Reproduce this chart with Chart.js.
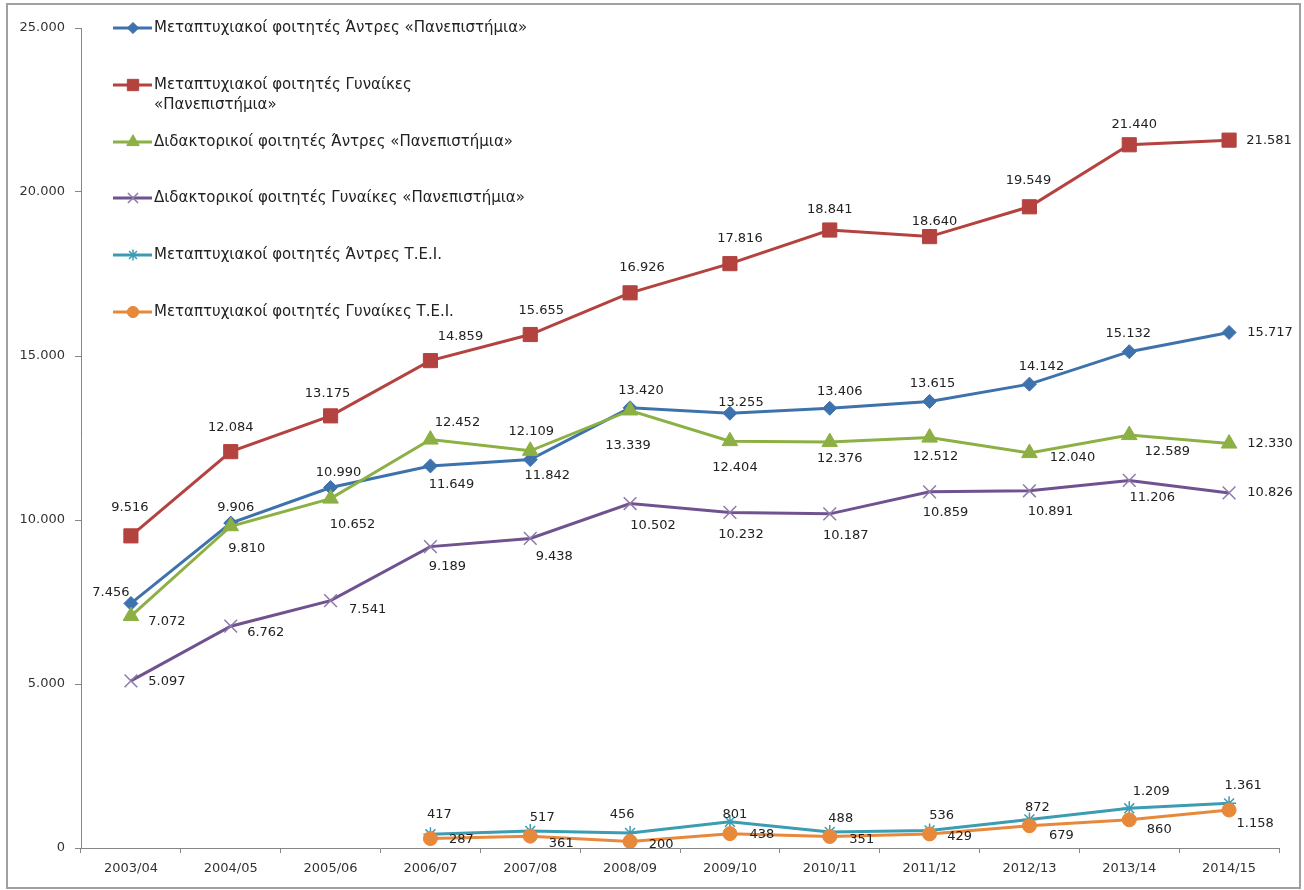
<!DOCTYPE html>
<html>
<head>
<meta charset="utf-8">
<script src="https://cdn.jsdelivr.net/npm/chart.js@4.4.0/dist/chart.umd.min.js"></script>
<style>
  html, body { margin: 0; padding: 0; background: #fff; }
</style>
</head>
<body>
<canvas id="chart" width="1304" height="890"></canvas>
<script>
const years = ['2003/04', '2004/05', '2005/06', '2006/07', '2007/08', '2008/09',
               '2009/10', '2010/11', '2011/12', '2012/13', '2013/14', '2014/15'];

const seriesNames = [
  'Μεταπτυχιακοί φοιτητές Άντρες «Πανεπιστήμια»',
  'Μεταπτυχιακοί φοιτητές Γυναίκες\n«Πανεπιστήμια»',
  'Διδακτορικοί φοιτητές Άντρες «Πανεπιστήμια»',
  'Διδακτορικοί φοιτητές Γυναίκες «Πανεπιστήμια»',
  'Μεταπτυχιακοί φοιτητές Άντρες Τ.Ε.Ι.',
  'Μεταπτυχιακοί φοιτητές Γυναίκες Τ.Ε.Ι.'
];

const mscMenUni   = [7456, 9906, 10990, 11649, 11842, 13420, 13255, 13406, 13615, 14142, 15132, 15717];
const mscWomenUni = [9516, 12084, 13175, 14859, 15655, 16926, 17816, 18841, 18640, 19549, 21440, 21581];
const phdMenUni   = [7072, 9810, 10652, 12452, 12109, 13339, 12404, 12376, 12512, 12040, 12589, 12330];
const phdWomenUni = [5097, 6762, 7541, 9189, 9438, 10502, 10232, 10187, 10859, 10891, 11206, 10826];
const mscMenTei   = [null, null, null, 417, 517, 456, 801, 488, 536, 872, 1209, 1361];
const mscWomenTei = [null, null, null, 287, 361, 200, 438, 351, 429, 679, 860, 1158];

const yTicks = [0, 5000, 10000, 15000, 20000, 25000];

// where each value label sits, relative to its point (dx, dy)
const labelOffsets = [
  [[-20,-11],[5,-15],[8,-15],[21,19],[17,16],[11,-17],[11,-11],[10,-17],[3,-18],[12,-18],[-1,-18],[41,0]],
  [[-1,-28],[0,-24],[-3,-22],[30,-24],[11,-24],[12,-25],[10,-25],[0,-20],[5,-15],[-1,-26],[5,-20],[40,0]],
  [[36,6],[16,22],[22,26],[27,-17],[1,-19],[-2,35],[5,26],[10,17],[6,19],[43,5],[38,17],[41,0]],
  [[36,1],[35,6],[37,9],[17,20],[24,18],[23,22],[11,22],[16,22],[16,21],[21,21],[23,17],[41,0]],
  [null,null,null,[9,-20],[12,-13],[-8,-18],[5,-7],[11,-13],[12,-15],[8,-12],[22,-17],[14,-18]],
  [null,null,null,[31,1],[31,7],[31,3],[32,1],[32,3],[30,3],[32,10],[30,10],[26,14]]
];

const legendRows = [28, 85, 142, 198, 255, 312];

const fmt = v => String(v).replace(/\B(?=(\d{3})+(?!\d))/g, '.');
const FONT = '"DejaVu Sans", Verdana, sans-serif';

function line(label, data, color, style, radius, extra) {
  return Object.assign({
    label: label.replace('\n', ' '),
    data: data,
    borderColor: color,
    backgroundColor: color,
    borderWidth: 3,
    pointStyle: style,
    pointRadius: radius,
    pointHoverRadius: radius,
    pointBackgroundColor: color,
    pointBorderColor: color,
    pointBorderWidth: 1,
    tension: 0
  }, extra || {});
}

const datasets = [
  line(seriesNames[0], mscMenUni, '#3e72ac', 'rectRot', 7),
  line(seriesNames[1], mscWomenUni, '#b4423f', 'rect', 10),
  line(seriesNames[2], phdMenUni, '#8cb043', 'triangle', 9),
  line(seriesNames[3], phdWomenUni, '#6f528f', 'crossRot', 9, { pointBorderColor: '#8e7aa8', pointBorderWidth: 1.5 }),
  line(seriesNames[4], mscMenTei, '#3c9cb2', 'star', 7, { pointBorderWidth: 1.5 }),
  line(seriesNames[5], mscWomenTei, '#e8883a', 'circle', 7)
];
datasets.forEach((d, i) => { d.order = datasets.length - i; });

const frame = {
  id: 'frame',
  beforeDraw(chart) {
    const ctx = chart.ctx;
    ctx.save();
    ctx.fillStyle = '#fff';
    ctx.fillRect(0, 0, chart.width, chart.height);
    ctx.strokeStyle = '#a0a0a0';
    ctx.lineWidth = 2;
    ctx.strokeRect(7, 4, 1293, 884);
    ctx.restore();
  }
};

const valueLabels = {
  id: 'valueLabels',
  afterDatasetsDraw(chart) {
    const ctx = chart.ctx;
    ctx.save();
    ctx.font = '13px ' + FONT;
    ctx.fillStyle = '#222';
    ctx.textAlign = 'center';
    ctx.textBaseline = 'middle';
    chart.data.datasets.forEach((ds, i) => {
      const meta = chart.getDatasetMeta(i);
      meta.data.forEach((pt, j) => {
        const v = ds.data[j];
        const off = labelOffsets[i][j];
        if (v == null || !off) return;
        ctx.fillText(fmt(v), pt.x + off[0], pt.y + off[1]);
      });
    });
    ctx.restore();
  }
};

const sideLegend = {
  id: 'sideLegend',
  afterDraw(chart) {
    const ctx = chart.ctx;
    ctx.save();
    chart.data.datasets.forEach((ds, i) => {
      const y = legendRows[i];
      ctx.strokeStyle = ds.borderColor;
      ctx.lineWidth = 3;
      ctx.beginPath();
      ctx.moveTo(113, y);
      ctx.lineTo(152, y);
      ctx.stroke();
      ctx.fillStyle = ds.pointBackgroundColor;
      ctx.strokeStyle = ds.pointBorderColor;
      ctx.lineWidth = ds.pointBorderWidth;
      Chart.helpers.drawPoint(ctx, {
        pointStyle: ds.pointStyle,
        radius: ds.pointRadius * 0.8,
        rotation: 0,
        borderWidth: ds.pointBorderWidth
      }, 133, y);
      ctx.font = '15px ' + FONT;
      ctx.fillStyle = '#222';
      ctx.textAlign = 'left';
      ctx.textBaseline = 'middle';
      seriesNames[i].split('\n').forEach((t, k) => {
        ctx.fillText(t, 154, y + k * 20);
      });
    });
    ctx.restore();
  }
};

new Chart(document.getElementById('chart'), {
  type: 'line',
  data: { labels: years, datasets: datasets },
  options: {
    responsive: false,
    animation: false,
    layout: { padding: { top: 28, right: 25, left: 0, bottom: 0 } },
    plugins: {
      legend: { display: false },
      tooltip: { enabled: false }
    },
    scales: {
      x: {
        offset: true,
        grid: { offset: true, drawOnChartArea: false, tickLength: 5, color: '#868686' },
        border: { color: '#868686', width: 1 },
        ticks: { font: { family: FONT, size: 13 }, color: '#333', padding: 8, maxRotation: 0, autoSkip: false },
        afterFit(scale) { scale.height = 42; }
      },
      y: {
        min: 0,
        max: 25000,
        afterBuildTicks(scale) { scale.ticks = yTicks.map(v => ({ value: v })); },
        grid: { drawOnChartArea: false, tickLength: 6, color: '#868686' },
        border: { color: '#868686', width: 1 },
        ticks: { font: { family: FONT, size: 13 }, color: '#333', padding: 10, callback: v => fmt(v) },
        afterFit(scale) { scale.width = 81; }
      }
    }
  },
  plugins: [frame, valueLabels, sideLegend]
});
</script>
</body>
</html>
